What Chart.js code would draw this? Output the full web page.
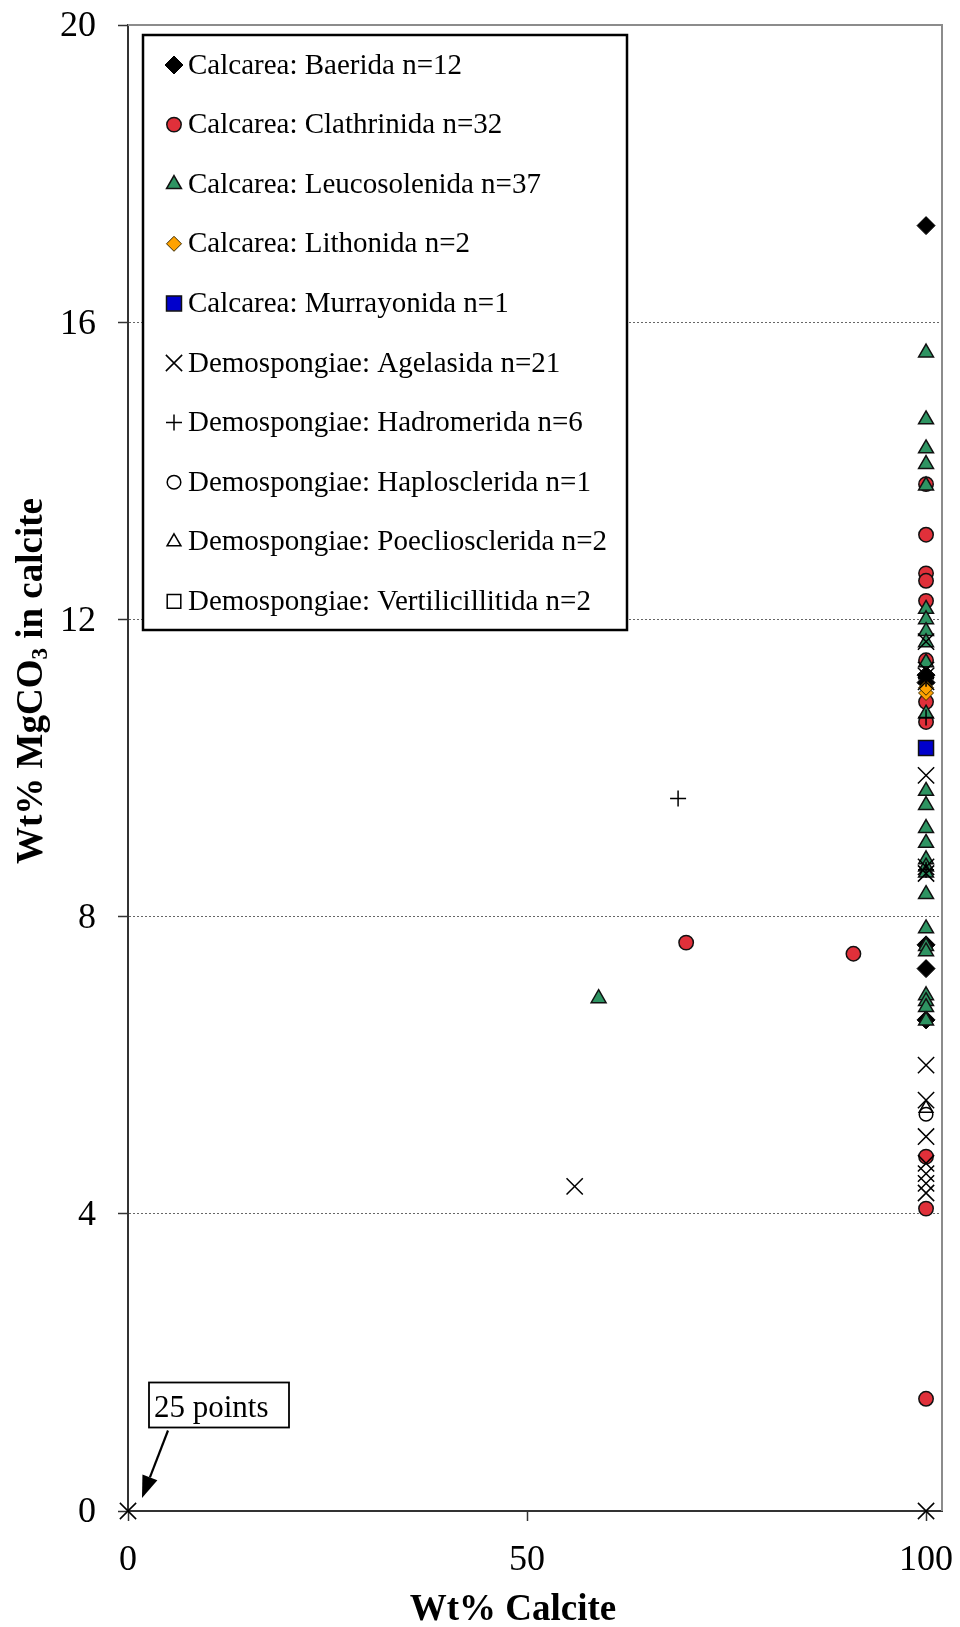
<!DOCTYPE html>
<html>
<head>
<meta charset="utf-8">
<title>Wt% MgCO3 in calcite vs Wt% Calcite</title>
<script src="https://cdn.jsdelivr.net/npm/chart.js@4.4.1/dist/chart.umd.min.js"></script>
<style>
  html, body { margin: 0; padding: 0; background: #fff; }
  #chart { display: block; }
</style>
</head>
<body>
<canvas id="chart" width="960" height="1627"></canvas>
<script>
const SERIF = "'Liberation Serif', 'Times New Roman', Times, serif";

// series names, in legend order
const seriesLabels = [
    'Calcarea: Baerida n=12',
    'Calcarea: Clathrinida n=32',
    'Calcarea: Leucosolenida n=37',
    'Calcarea: Lithonida n=2',
    'Calcarea: Murrayonida n=1',
    'Demospongiae: Agelasida n=21',
    'Demospongiae: Hadromerida n=6',
    'Demospongiae: Haplosclerida n=1',
    'Demospongiae: Poecliosclerida n=2',
    'Demospongiae: Vertilicillitida n=2'
];

// [Wt% calcite, Wt% MgCO3]
const baerida = [[100, 17.30], [100, 11.25], [100, 11.15], [100, 7.62], [100, 7.30], [100, 6.61]];
const clathrinida = [
    [100, 13.82], [100, 13.14], [100, 12.62], [100, 12.52], [100, 12.25], [100, 11.45],
    [100, 10.89], [100, 10.62], [100, 4.77], [100, 4.07], [100, 1.51], [69.94, 7.65], [90.9, 7.50]
];
const leucosolenida = [
    [100, 15.59], [100, 14.69], [100, 14.30], [100, 14.09], [100, 13.80], [100, 12.14],
    [100, 12.00], [100, 11.84], [100, 11.69], [100, 11.42], [100, 10.73], [100, 9.69],
    [100, 9.50], [100, 9.19], [100, 8.99], [100, 8.77], [100, 8.67], [100, 8.59],
    [100, 8.30], [100, 7.84], [100, 7.60], [100, 7.53], [100, 6.94], [100, 6.86],
    [100, 6.78], [100, 6.60], [58.97, 6.90]
];
const lithonida = [[100, 11.01], [100, 11.08]];
const murrayonida = [[100, 10.27]];
const agelasida = [
    [0, 0], [100, 0], [55.97, 4.37], [100, 11.70], [100, 11.32], [100, 11.24], [100, 11.16],
    [100, 9.90], [100, 8.67], [100, 8.58], [100, 6.00], [100, 5.53], [100, 5.04],
    [100, 4.68], [100, 4.54], [100, 4.41], [100, 4.28]
];
const hadromerida = [[68.93, 9.59], [100, 10.68], [100, 11.20], [100, 8.63]];
const haplosclerida = [[100, 5.34]];
const poecilosclerida = [[100, 5.42]];
const vertilicillitida = [];

const seriesPoints = [baerida, clathrinida, leucosolenida, lithonida, murrayonida,
    agelasida, hadromerida, haplosclerida, poecilosclerida, vertilicillitida];

const xTicks = [0, 50, 100];
const yTicks = [0, 4, 8, 12, 16, 20];
const xMax = 102;
const yMax = 20;

// marker look per series (Excel style)
const markerStyles = [
    { style: 'rectRot', radius: 9, fill: '#000000', line: '#000000', width: 1 },
    { style: 'circle', radius: 7.2, fill: '#E0303A', line: '#111111', width: 1.5 },
    { style: 'triangle', radius: 8.6, fill: '#2E9462', line: '#111111', width: 1.5 },
    { style: 'rectRot', radius: 7.5, fill: '#FFA200', line: '#3a2a00', width: 1 },
    { style: 'rect', radius: 10.6, fill: '#0000CC', line: '#111111', width: 1.5 },
    { style: 'crossRot', radius: 11.5, fill: 'rgba(0,0,0,0)', line: '#000000', width: 1.5 },
    { style: 'cross', radius: 8, fill: 'rgba(0,0,0,0)', line: '#000000', width: 1.5 },
    { style: 'circle', radius: 6.8, fill: 'rgba(0,0,0,0)', line: '#000000', width: 1.5 },
    { style: 'triangle', radius: 8, fill: 'rgba(0,0,0,0)', line: '#000000', width: 1.5 },
    { style: 'rect', radius: 9.6, fill: 'rgba(0,0,0,0)', line: '#000000', width: 1.5 }
];

function drawMarker(ctx, m, x, y) {
    ctx.fillStyle = m.fill;
    ctx.strokeStyle = m.line;
    ctx.lineWidth = m.width;
    if (Chart.helpers && Chart.helpers.drawPoint) {
        Chart.helpers.drawPoint(ctx, { pointStyle: m.style, radius: m.radius, rotation: 0, borderWidth: m.width }, x, y);
    } else {
        ctx.beginPath();
        ctx.arc(x, y, m.radius * 0.8, 0, Math.PI * 2);
        ctx.fill();
        ctx.stroke();
    }
}

// gray frame on top and right of the plot
const plotFrame = {
    id: 'plotFrame',
    beforeDatasetsDraw(chart) {
        const { ctx, chartArea: a } = chart;
        ctx.save();
        ctx.strokeStyle = '#8c8c8c';
        ctx.lineWidth = 2;
        ctx.beginPath();
        ctx.moveTo(a.left, a.top);
        ctx.lineTo(a.right, a.top);
        ctx.lineTo(a.right, a.bottom);
        ctx.stroke();
        ctx.restore();
    }
};

// boxed legend in the upper left corner of the plot
const boxLegend = {
    id: 'boxLegend',
    afterDraw(chart) {
        const ctx = chart.ctx;
        ctx.save();
        ctx.fillStyle = '#fff';
        ctx.fillRect(143, 35, 484, 595);
        ctx.lineWidth = 2.5;
        ctx.strokeStyle = '#000';
        ctx.strokeRect(143, 35, 484, 595);
        chart.data.datasets.forEach((ds, i) => {
            const y = 65 + i * 59.6;
            drawMarker(ctx, markerStyles[i], 174, y);
            ctx.fillStyle = '#000';
            ctx.font = '29px ' + SERIF;
            ctx.textAlign = 'left';
            ctx.textBaseline = 'middle';
            ctx.fillText(ds.label, 188, y + 1);
        });
        ctx.restore();
    }
};

// axis titles (y title needs the subscript 3)
const axisTitles = {
    id: 'axisTitles',
    afterDraw(chart) {
        const ctx = chart.ctx;
        ctx.save();
        ctx.fillStyle = '#000';
        ctx.font = 'bold 37px ' + SERIF;
        ctx.textAlign = 'center';
        ctx.textBaseline = 'alphabetic';
        ctx.fillText('Wt% Calcite', 513, 1620);

        const big = 'bold 37px ' + SERIF;
        const small = 'bold 23px ' + SERIF;
        const parts = [['Wt% MgCO', big, 0], ['3', small, 5], [' in calcite', big, 0]];
        let total = 0;
        parts.forEach(p => { ctx.font = p[1]; total += ctx.measureText(p[0]).width; });
        ctx.translate(41.5, 681);
        ctx.rotate(-Math.PI / 2);
        ctx.textAlign = 'left';
        let x = -total / 2;
        parts.forEach(p => {
            ctx.font = p[1];
            ctx.fillText(p[0], x, p[2]);
            x += ctx.measureText(p[0]).width;
        });
        ctx.restore();
    }
};

// "25 points" callout pointing at the origin
const originNote = {
    id: 'originNote',
    afterDraw(chart) {
        const { ctx, scales } = chart;
        const x0 = scales.x.getPixelForValue(0);
        const y0 = scales.y.getPixelForValue(0);
        ctx.save();
        ctx.fillStyle = '#fff';
        ctx.fillRect(x0 + 21, y0 - 128.5, 140, 45);
        ctx.strokeStyle = '#000';
        ctx.lineWidth = 1.8;
        ctx.strokeRect(x0 + 21, y0 - 128.5, 140, 45);
        ctx.fillStyle = '#000';
        ctx.font = '31px ' + SERIF;
        ctx.textAlign = 'left';
        ctx.textBaseline = 'alphabetic';
        ctx.fillText('25 points', x0 + 26, y0 - 94);

        const sx = x0 + 40, sy = y0 - 80.5;
        const tx = x0 + 14, ty = y0 - 13;
        const ang = Math.atan2(ty - sy, tx - sx);
        const headLen = 22, headW = 8;
        const bx = tx - headLen * Math.cos(ang), by = ty - headLen * Math.sin(ang);
        ctx.lineWidth = 2.2;
        ctx.beginPath();
        ctx.moveTo(sx, sy);
        ctx.lineTo(bx, by);
        ctx.stroke();
        ctx.beginPath();
        ctx.moveTo(tx, ty);
        ctx.lineTo(bx + headW * Math.sin(ang), by - headW * Math.cos(ang));
        ctx.lineTo(bx - headW * Math.sin(ang), by + headW * Math.cos(ang));
        ctx.closePath();
        ctx.fill();
        ctx.restore();
    }
};

const datasets = seriesLabels.map((label, i) => {
    const m = markerStyles[i];
    return {
        label: label,
        data: seriesPoints[i].map(p => ({ x: p[0], y: p[1] })),
        pointStyle: m.style,
        pointRadius: m.radius,
        pointBackgroundColor: m.fill,
        pointBorderColor: m.line,
        pointBorderWidth: m.width,
        showLine: false,
        clip: false,
        order: seriesLabels.length - i
    };
});

const tickFont = { family: SERIF, size: 36 };

new Chart(document.getElementById('chart'), {
    type: 'scatter',
    data: { datasets: datasets },
    options: {
        responsive: false,
        animation: false,
        layout: { padding: { left: 0, top: 25, right: 18, bottom: 0 } },
        plugins: {
            legend: { display: false },
            tooltip: { enabled: false }
        },
        scales: {
            x: {
                type: 'linear',
                min: 0,
                max: xMax,
                afterBuildTicks: s => { s.ticks = xTicks.map(v => ({ value: v })); },
                afterFit: s => { s.height = 116; s.paddingLeft = 0; s.paddingRight = 0; },
                ticks: { font: tickFont, color: '#000', padding: 18, autoSkip: false, maxRotation: 0 },
                grid: { drawOnChartArea: false, drawTicks: true, tickLength: 10, tickColor: '#333', tickWidth: 1.5 },
                border: { color: '#333', width: 2 }
            },
            y: {
                type: 'linear',
                min: 0,
                max: yMax,
                afterBuildTicks: s => { s.ticks = yTicks.map(v => ({ value: v })); },
                afterFit: s => { s.width = 128; s.paddingTop = 0; s.paddingBottom = 0; },
                ticks: { font: tickFont, color: '#000', padding: 22, labelOffset: 2, autoSkip: false },
                grid: {
                    color: c => (c.tick && (c.tick.value === 0 || c.tick.value === yMax)) ? 'rgba(0,0,0,0)' : '#666',
                    lineWidth: 1,
                    drawTicks: true,
                    tickLength: 10,
                    tickColor: '#333',
                    tickWidth: 1.5
                },
                border: { color: '#333', width: 2, dash: [2, 2] }
            }
        }
    },
    plugins: [plotFrame, boxLegend, axisTitles, originNote]
});
</script>
</body>
</html>
